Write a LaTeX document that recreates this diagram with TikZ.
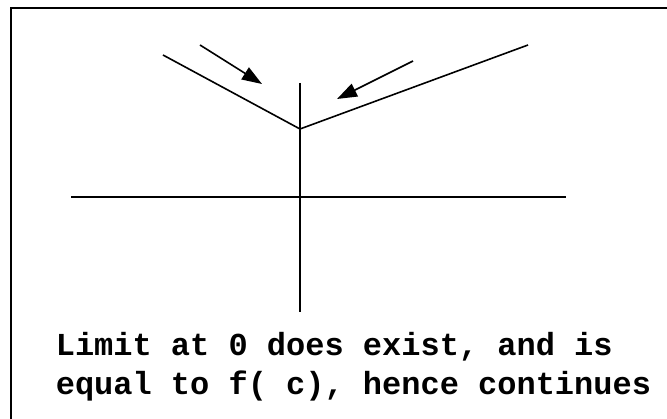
\documentclass[tikz,border=0pt]{standalone}
\usepackage{fontspec}
\setmonofont{Liberation Mono}
\usetikzlibrary{arrows.meta, positioning}
\tikzset{
  every picture/.style={line width=1.6pt},
  axis/.style={draw=black, line width=1.6pt},
  curve/.style={draw=black, line width=1.6pt},
  hint/.style={-{Triangle[length=20pt, width=14pt]}, draw=black, line width=1.6pt},
  caption/.style={font=\ttfamily\bfseries\fontsize{32}{39}\selectfont, align=left, inner sep=0pt, anchor=base west},
}
\begin{document}
\begin{tikzpicture}[x=1pt, y=-1pt]
  \useasboundingbox (0,0) rectangle (667,419);
  % frame (only top and left edges show)
  \draw[line width=2pt] (11,419) -- (11,8) -- (667,8);
  % axes
  \coordinate (xl) at (71,197);
  \coordinate (xr) at (566,197);
  \coordinate (yt) at (300,83);
  \coordinate (yb) at (300,312);
  \draw[axis] (xl) -- (xr);
  \draw[axis] (yt) -- (yb);
  % the v shape
  \coordinate (v) at (300,129);
  \coordinate (la) at (163,55);
  \coordinate (ra) at (528,45);
  \draw[curve] (la) -- (v) -- (ra);
  % arrows towards the vertex
  \coordinate (l0) at (200,45);
  \coordinate (l1) at (262,84);
  \coordinate (r0) at (413,61);
  \coordinate (r1) at (337,99);
  \draw[hint] (l0) -- (l1);
  \draw[hint] (r0) -- (r1);
  % caption (base is the last line)
  \node[caption] (cap) at (55,395) {Limit at 0 does exist, and is\\equal to f( c), hence continues};
\end{tikzpicture}
\end{document}
